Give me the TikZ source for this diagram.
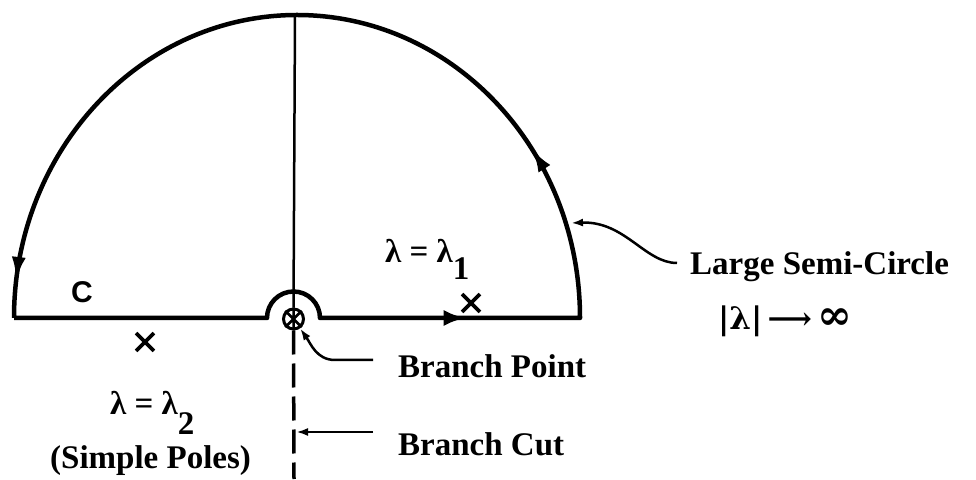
\documentclass[tikz,border=0pt]{standalone}
\usepackage{fontspec}
\setmainfont{Liberation Serif}
\newfontfamily\djvfont{DejaVu Serif}
\newfontfamily\lsansfont{Liberation Sans}
\usetikzlibrary{arrows.meta,decorations.markings,shapes.misc}
\begin{document}
\begin{tikzpicture}[x=1pt,y=1pt,
  contour/.style={line width=4.5pt, line join=round},
  lbl/.style={font=\fontsize{33}{38}\selectfont\bfseries, inner sep=0pt, anchor=base west},
  pole/.style={cross out, draw, line width=3.8pt, minimum size=14pt, inner sep=0pt},
  leader/.style={line width=2.5pt},
  smalltip/.style={-{Latex[length=12pt,width=8pt]}}]
\useasboundingbox (0,0) rectangle (976,479);
% contour
\draw[contour, postaction={decorate}, decoration={markings,
   mark=at position 482pt with {\arrow{Latex[length=22pt,width=16pt]}},
   mark=at position 775pt with {\arrow{Latex[length=24pt,width=14pt]}},
   mark=at position 1480pt with {\arrow{Latex[length=24pt,width=14pt]}}}]
  (14,161) -- (267,161) arc[start angle=180,end angle=0,radius=26.5] -- (580,161)
  arc[start angle=0,end angle=180,x radius=283,y radius=303];
% branch point
\node[circle, draw, line width=3pt, minimum size=20pt, inner sep=0pt] (bp) at (293.5,160) {};
\draw[line width=2.5pt] (bp.45) -- (bp.225) (bp.135) -- (bp.-45) (bp.north) -- (bp.south);
\coordinate (top) at (295,464);
\draw[line width=2.5pt] (top) -- (bp.north);
\coordinate (cutend) at (294,0);
\draw[line width=3.5pt, dash pattern=on 24pt off 9pt] (bp.south) -- (cutend);
% labels
\node[lbl] (bpt) at (398,101) {Branch Point};
\coordinate (bpl) at (373,119);
\coordinate (bpm) at (335,119);
\draw[leader, smalltip] (bpl) -- (bpm) to[out=180,in=-55] (bp.-55);
\node[lbl] (bct) at (398,24) {Branch Cut};
\coordinate (bcl) at (373,47);
\coordinate (bcx) at (296,47);
\draw[leader, smalltip] (bcl) -- (bcx);
\node[lbl] (lsc) at (690,204) {Large Semi-Circle};
\node[lbl, font=\fontsize{31}{36}\selectfont\djvfont\bfseries] (lim) at (718,149) {|λ|\,⟶\,\scalebox{1.35}{∞}};
\coordinate (lsl) at (677,216);
\coordinate (lsa) at (571,256);
\draw[leader, smalltip] (lsl) .. controls (645,216) and (625,258) .. (lsa);
\node[lbl] (l1) at (385,216) {λ = λ\raisebox{-17pt}{1}};
\node[lbl] (l2) at (110,64) {λ = λ\raisebox{-19pt}{2}};
\node[lbl] (sp) at (50,11) {(Simple Poles)};
\node[font=\fontsize{30}{34}\selectfont\lsansfont\bfseries, inner sep=0pt] (C) at (82,187) {C};
\node[pole] (p1) at (471,176) {};
\node[pole] (p2) at (145,137) {};
\end{tikzpicture}
\end{document}
